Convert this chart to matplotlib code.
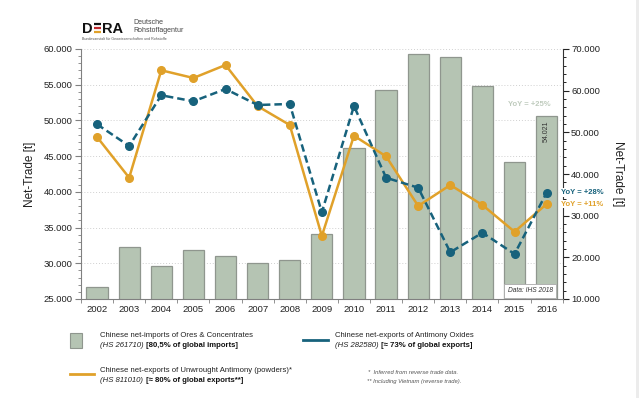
import numpy as np
import matplotlib.pyplot as plt
import matplotlib.ticker as mtick
from matplotlib import font_manager
from matplotlib.patches import Rectangle
from matplotlib.lines import Line2D

# data (tonnes)
years = [str(y) for y in range(2002, 2017)]
ores_imports = [12950, 22550, 17850, 21830, 20250, 18640, 19290, 25600,
                46300, 60090, 68870, 68000, 61040, 42880, 54021]
oxides_exports = [49460, 46420, 53520, 52680, 54400, 52160, 52300, 37140,
                  52020, 41980, 40580, 31540, 34280, 31300, 39880]
unwrought_exports = [47680, 41980, 57020, 55940, 57760, 52000, 49360, 33820,
                     47860, 44970, 38020, 40960, 38160, 34420, 38300]

BAR = '#b5c4b3'
BAR_EDGE = '#8f968e'
BLUE = '#17627c'
ORANGE = '#e0a12a'
GRAY = '#808080'

plt.rcParams['font.family'] = ['Liberation Sans', 'DejaVu Sans']

# legend text is set in a condensed face in the original
names = {f.name for f in font_manager.fontManager.ttflist}
if 'Liberation Sans Narrow' in names:
    LEG_FAMILY = ['Liberation Sans Narrow', 'DejaVu Sans']
    LEG_SIZE = 6.4
else:
    LEG_FAMILY = ['Liberation Sans', 'DejaVu Sans']
    LEG_SIZE = 5.6

W, H = 639, 398
fig = plt.figure(figsize=(W / 100, H / 100), dpi=100)


def fx(px):
    return px / W


def fy(py):
    return 1 - py / H


def thousands(v, pos=None):
    return f"{v:,.0f}".replace(',', '.')


pos = [fx(81), fy(299), fx(562.7) - fx(81), fy(49) - fy(299)]
x = np.arange(len(years))

# grid sits underneath everything (follows the left axis)
gax = fig.add_axes(pos, zorder=0)
gax.set_xlim(-0.5, len(years) - 0.5)
gax.set_ylim(25000, 60000)
gax.set_yticks(range(25000, 60001, 5000))
gax.grid(axis='y', ls=(0, (1, 2)), color='#d0d0d0', lw=0.7)
gax.tick_params(left=False, bottom=False, labelleft=False, labelbottom=False)
for s in gax.spines.values():
    s.set_visible(False)

# bars -> right axis
axb = fig.add_axes(pos, zorder=1)
axb.patch.set_visible(False)
axb.bar(x, ores_imports, width=0.66, color=BAR, edgecolor=BAR_EDGE, lw=0.9)
axb.set_xlim(-0.5, len(years) - 0.5)
axb.set_ylim(10000, 70000)
axb.yaxis.tick_right()
axb.yaxis.set_major_locator(mtick.MultipleLocator(10000))
axb.yaxis.set_minor_locator(mtick.MultipleLocator(2000))
axb.yaxis.set_major_formatter(mtick.FuncFormatter(thousands))
axb.set_xticks(x)
axb.set_xticklabels(years)
axb.set_xticks(np.arange(-0.5, len(years), 1), minor=True)
axb.tick_params(axis='x', which='major', length=0, pad=4, labelsize=6.8, colors='#222222')
axb.tick_params(axis='x', which='minor', length=3, color=GRAY)
axb.tick_params(axis='y', which='major', length=4, labelsize=6.8, colors='#222222', pad=2)
axb.tick_params(axis='y', which='minor', length=2)
axb.spines['left'].set_visible(False)
axb.spines['top'].set_visible(False)
axb.spines['right'].set_color('#333333')
axb.spines['bottom'].set_color(GRAY)

axb.annotate(thousands(ores_imports[-1]), xy=(x[-1], ores_imports[-1]),
             xytext=(0, -5), textcoords='offset pixels', rotation=90,
             ha='center', va='top', fontsize=5, color='#333333')
axb.annotate('YoY = +25%', xy=(x[-1], ores_imports[-1]), xytext=(-17, 11),
             textcoords='offset pixels', ha='center', va='center',
             fontsize=5.5, fontweight='bold', color='#bfcbbd')

# lines -> left axis
axl = fig.add_axes(pos, zorder=2, sharex=axb)
axl.patch.set_visible(False)
axl.plot(x, unwrought_exports, color=ORANGE, lw=1.8, marker='o', ms=5.5)
axl.plot(x, oxides_exports, color=BLUE, lw=1.8, ls=(0, (3, 1.6)),
         marker='o', ms=5.5)
axl.set_ylim(25000, 60000)
axl.yaxis.set_major_locator(mtick.MultipleLocator(5000))
axl.yaxis.set_minor_locator(mtick.MultipleLocator(1000))
axl.yaxis.set_major_formatter(mtick.FuncFormatter(thousands))
axl.tick_params(axis='y', which='major', length=4, labelsize=6.8,
                colors='#222222', pad=2)
axl.tick_params(axis='y', which='both', color=GRAY)
axl.tick_params(axis='y', which='minor', length=2)
axl.tick_params(axis='x', which='both', bottom=False, labelbottom=False)
for s in ['top', 'right', 'bottom']:
    axl.spines[s].set_visible(False)
axl.spines['left'].set_color(GRAY)

for vals, col, lab in [(oxides_exports, BLUE, 'YoY = +28%'),
                       (unwrought_exports, ORANGE, 'YoY = +11%')]:
    axl.annotate(lab, xy=(x[-1], vals[-1]), xytext=(14, 0),
                 textcoords='offset pixels', ha='left', va='center',
                 fontsize=5.5, fontweight='bold', color=col,
                 annotation_clip=False,
                 bbox=dict(boxstyle='square,pad=0.1', fc='white', ec='none'))

fig.text(fx(30), fy(174), 'Net-Trade [t]', rotation=90, ha='center',
         va='center', fontsize=8.5, color='#222222')
fig.text(fx(618), fy(174), 'Net-Trade [t]', rotation=270, ha='center',
         va='center', fontsize=8.5, color='#222222')

fig.text(fx(530), fy(291), 'Data: IHS 2018', ha='center', va='center',
         fontsize=4.8, style='italic', color='#333333',
         bbox=dict(boxstyle='square,pad=0.5', fc='white', ec='#aaaaaa', lw=0.6))

# logo
fig.text(fx(82), fy(33), 'D', fontsize=10.5, fontweight='bold', ha='left',
         va='baseline', color='#111111')
for yy, col in [(23.5, '#111111'), (28, '#c0272d'), (32, '#e0a12a')]:
    fig.add_artist(Line2D([fx(93.5), fx(101.5)], [fy(yy), fy(yy)], lw=1.6,
                          color=col, solid_capstyle='butt'))
fig.text(fx(102), fy(33), 'RA', fontsize=10.5, fontweight='bold', ha='left',
         va='baseline', color='#111111')
fig.text(fx(133), fy(22), 'Deutsche', fontsize=5, color='#444444', va='center')
fig.text(fx(133), fy(30), 'Rohstoffagentur', fontsize=5, color='#444444',
         va='center')
fig.text(fx(82), fy(38.5), 'Bundesanstalt für Geowissenschaften und Rohstoffe',
         fontsize=2.6, color='#555555', va='center')


# legend below the plot
def two_part(xp, yp, italic, bold):
    t = fig.text(fx(xp), fy(yp), italic, style='italic', fontsize=LEG_SIZE,
                 family=LEG_FAMILY, va='center', ha='left', color='#222222')
    return plt.annotate(' ' + bold, xy=(1, 0), xycoords=t, va='bottom',
                        ha='left', fontsize=LEG_SIZE, family=LEG_FAMILY,
                        fontweight='bold', color='#111111',
                        annotation_clip=False)


fig.add_artist(Rectangle((fx(69.5), fy(347.5)), fx(12), fy(332.5) - fy(347.5),
                         fc=BAR, ec=BAR_EDGE, lw=0.8))
fig.text(fx(100.5), fy(335.3), 'Chinese net-imports of Ores & Concentrates',
         fontsize=LEG_SIZE, family=LEG_FAMILY, va='center', color='#222222')
two_part(100.5, 345.5, '(HS 261710)', '[80,5% of global imports]')

fig.add_artist(Line2D([fx(303), fx(328)], [fy(340), fy(340)], lw=2, color=BLUE))
fig.text(fx(335.3), fy(335.3), 'Chinese net-exports of Antimony Oxides',
         fontsize=LEG_SIZE, family=LEG_FAMILY, va='center', color='#222222')
two_part(335.3, 345.5, '(HS 282580)', '[≈ 73% of global exports]')

fig.add_artist(Line2D([fx(69.5), fx(94)], [fy(374.3), fy(374.3)], lw=2,
                      color=ORANGE))
fig.text(fx(100.5), fy(370), 'Chinese net-exports of Unwrought Antimony (powders)*',
         fontsize=LEG_SIZE, family=LEG_FAMILY, va='center', color='#222222')
two_part(100.5, 380.5, '(HS 811010)', '[≈ 80% of global exports**]')

fig.text(fx(458), fy(372.3), '*  Inferred from reverse trade data.',
         fontsize=4.2, style='italic', ha='right', va='center', color='#555555')
fig.text(fx(461), fy(381), '** Including Vietnam (reverse trade).',
         fontsize=4.2, style='italic', ha='right', va='center', color='#555555')

# slide edge on the right
fig.add_artist(Rectangle((fx(636), 0), fx(3), 1, fc='#ececec', ec='none'))

fig.savefig('out.png', dpi=100)
